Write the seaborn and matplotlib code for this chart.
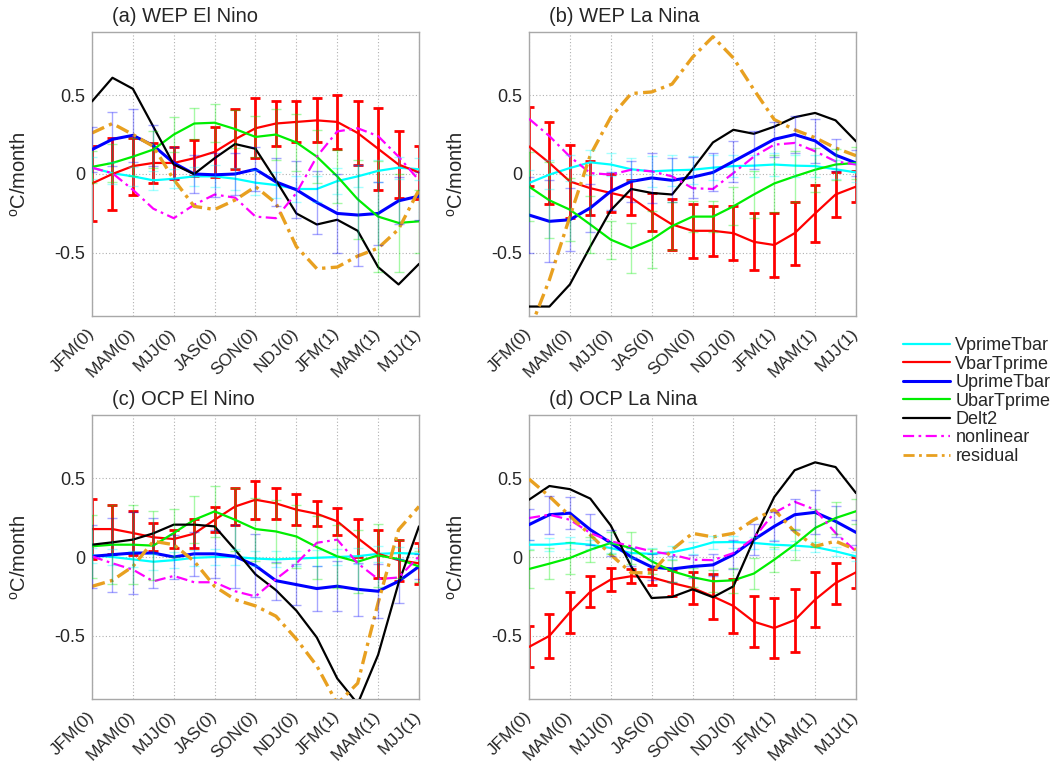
import numpy as np
import pandas as pd
import matplotlib
matplotlib.use("Agg")
import matplotlib.pyplot as plt
from matplotlib.lines import Line2D
import seaborn as sns

# ---------------------------------------------------------------- data
months = list(range(17))
tick_pos = [0, 2, 4, 6, 8, 10, 12, 14, 16]
tick_labels = ["JFM(0)", "MAM(0)", "MJJ(0)", "JAS(0)", "SON(0)",
               "NDJ(0)", "JFM(1)", "MAM(1)", "MJJ(1)"]
terms = ["VprimeTbar", "VbarTprime", "UprimeTbar", "UbarTprime",
         "Delt2", "nonlinear", "residual"]
titles = ["(a) WEP El Nino", "(b) WEP La Nina",
          "(c) OCP El Nino", "(d) OCP La Nina"]

# (a) WEP El Nino
vprimetbar_a = [0.04, 0.005, -0.015, -0.04, -0.03, -0.015, -0.015, -0.03, -0.055,
                -0.07, -0.095, -0.095, -0.045, -0.015, 0.02, 0.04, 0.03]
vbartprime_a = [-0.06, 0.0, 0.05, 0.07, 0.07, 0.10, 0.14, 0.22, 0.29, 0.32, 0.33,
                0.34, 0.33, 0.26, 0.16, 0.06, 0.01]
uprimetbar_a = [0.155, 0.22, 0.245, 0.18, 0.07, 0.0, -0.005, 0.0, 0.03, -0.05, -0.10,
                -0.18, -0.25, -0.26, -0.25, -0.17, -0.14]
ubartprime_a = [0.045, 0.07, 0.11, 0.155, 0.25, 0.32, 0.325, 0.285, 0.235, 0.25, 0.20,
                0.11, -0.015, -0.16, -0.27, -0.31, -0.30]
delt2_a = [0.46, 0.61, 0.54, 0.30, 0.06, 0.0, 0.10, 0.19, 0.16, -0.04, -0.25, -0.32,
           -0.29, -0.36, -0.59, -0.70, -0.57]
nonlinear_a = [0.04, 0.005, -0.10, -0.22, -0.28, -0.195, -0.13, -0.15, -0.27, -0.28,
               -0.12, 0.11, 0.27, 0.29, 0.24, 0.11, -0.04]
residual_a = [0.26, 0.32, 0.25, 0.175, -0.035, -0.205, -0.225, -0.165, -0.08, -0.185,
              -0.46, -0.60, -0.59, -0.52, -0.47, -0.35, -0.10]
vprimetbar_err_a = [0.07, 0.07, 0.06, 0.06, 0.06, 0.06, 0.07, 0.07, 0.08, 0.08, 0.08,
                    0.08, 0.08, 0.07, 0.07, 0.07, 0.07]
vbartprime_err_a = [0.24, 0.23, 0.18, 0.125, 0.10, 0.115, 0.16, 0.19, 0.19, 0.14, 0.13,
                    0.14, 0.17, 0.20, 0.26, 0.21, 0.17]
uprimetbar_err_a = [0.14, 0.17, 0.17, 0.13, 0.10, 0.12, 0.14, 0.13, 0.14, 0.15, 0.18,
                    0.20, 0.25, 0.32, 0.20, 0.15, 0.15]
ubartprime_err_a = [0.10, 0.12, 0.12, 0.12, 0.11, 0.10, 0.12, 0.12, 0.13, 0.16, 0.18,
                    0.17, 0.17, 0.25, 0.35, 0.31, 0.20]

# (b) WEP La Nina
vprimetbar_b = [-0.057, -0.004, 0.038, 0.074, 0.06, 0.03, 0.017, 0.023, 0.027, 0.04,
                0.05, 0.053, 0.06, 0.053, 0.05, 0.03, 0.01]
vbartprime_b = [0.175, 0.07, -0.047, -0.09, -0.12, -0.15, -0.24, -0.32, -0.36, -0.36,
                -0.375, -0.43, -0.45, -0.375, -0.25, -0.13, -0.08]
uprimetbar_b = [-0.26, -0.30, -0.29, -0.215, -0.11, -0.047, -0.025, -0.04, -0.02, 0.01,
                0.08, 0.15, 0.22, 0.25, 0.21, 0.12, 0.07]
ubartprime_b = [-0.08, -0.167, -0.226, -0.32, -0.416, -0.47, -0.416, -0.33, -0.27, -0.27,
                -0.205, -0.13, -0.06, -0.015, 0.027, 0.06, 0.07]
delt2_b = [-0.84, -0.84, -0.70, -0.46, -0.23, -0.095, -0.12, -0.13, 0.03, 0.20, 0.28,
           0.255, 0.30, 0.36, 0.387, 0.34, 0.207]
nonlinear_b = [0.35, 0.24, 0.11, 0.006, -0.004, 0.027, 0.017, -0.015, -0.09, -0.095,
               0.006, 0.11, 0.186, 0.197, 0.144, 0.08, 0.06]
residual_b = [-1.0, -0.67, -0.27, 0.12, 0.36, 0.51, 0.52, 0.57, 0.74, 0.87, 0.735,
              0.535, 0.345, 0.28, 0.23, 0.165, 0.116]
vprimetbar_err_b = [0.08, 0.09, 0.08, 0.08, 0.07, 0.07, 0.10, 0.10, 0.09, 0.08, 0.07,
                    0.07, 0.07, 0.07, 0.07, 0.06, 0.06]
vbartprime_err_b = [0.25, 0.26, 0.23, 0.17, 0.12, 0.11, 0.12, 0.16, 0.17, 0.16, 0.17,
                    0.18, 0.20, 0.20, 0.18, 0.145, 0.10]
uprimetbar_err_b = [0.24, 0.26, 0.20, 0.15, 0.12, 0.13, 0.16, 0.14, 0.13, 0.12, 0.13,
                    0.12, 0.11, 0.12, 0.14, 0.10, 0.08]
ubartprime_err_b = [0.22, 0.24, 0.20, 0.18, 0.12, 0.16, 0.18, 0.15, 0.10, 0.10, 0.12,
                    0.15, 0.18, 0.16, 0.14, 0.10, 0.10]

# (c) OCP El Nino
vprimetbar_c = [0.01, 0.0, -0.015, -0.03, -0.02, -0.005, 0.0, 0.0, -0.01, -0.015,
                -0.01, -0.005, 0.0, 0.005, 0.02, 0.025, 0.02]
vbartprime_c = [0.177, 0.177, 0.152, 0.125, 0.114, 0.148, 0.236, 0.32, 0.363, 0.34,
                0.30, 0.274, 0.226, 0.12, 0.02, -0.02, -0.04]
uprimetbar_c = [0.004, 0.015, 0.025, 0.025, 0.0, 0.02, 0.02, 0.004, -0.055, -0.15,
                -0.175, -0.20, -0.185, -0.205, -0.217, -0.154, -0.06]
ubartprime_c = [0.068, 0.078, 0.078, 0.072, 0.152, 0.236, 0.289, 0.236, 0.177, 0.162,
                0.13, 0.063, 0.004, -0.03, 0.01, -0.013, -0.06]
delt2_c = [0.078, 0.093, 0.11, 0.15, 0.205, 0.205, 0.194, 0.046, -0.11, -0.21, -0.34,
           -0.51, -0.77, -0.93, -0.62, -0.165, 0.194]
nonlinear_c = [0.004, -0.04, -0.08, -0.154, -0.12, -0.16, -0.16, -0.217, -0.25, -0.14,
               -0.04, 0.09, 0.11, -0.04, -0.14, -0.13, 0.004]
residual_c = [-0.186, -0.148, -0.06, 0.10, 0.078, -0.027, -0.186, -0.27, -0.31, -0.375,
              -0.52, -0.69, -0.93, -0.80, -0.29, 0.173, 0.32]
vprimetbar_err_c = [0.05, 0.05, 0.05, 0.05, 0.05, 0.05, 0.05, 0.05, 0.05, 0.05, 0.05,
                    0.05, 0.05, 0.05, 0.05, 0.04, 0.04]
vbartprime_err_c = [0.19, 0.155, 0.14, 0.09, 0.055, 0.09, 0.08, 0.12, 0.12, 0.10, 0.10,
                    0.08, 0.085, 0.12, 0.15, 0.13, 0.13]
uprimetbar_err_c = [0.20, 0.235, 0.26, 0.22, 0.14, 0.14, 0.15, 0.20, 0.20, 0.12, 0.13,
                    0.14, 0.16, 0.17, 0.17, 0.14, 0.08]
ubartprime_err_c = [0.20, 0.25, 0.25, 0.22, 0.15, 0.15, 0.16, 0.20, 0.20, 0.20, 0.20,
                    0.20, 0.20, 0.20, 0.20, 0.12, 0.10]

# (d) OCP La Nina
vprimetbar_d = [0.078, 0.078, 0.089, 0.078, 0.057, 0.025, 0.02, 0.03, 0.057, 0.093,
                0.095, 0.089, 0.078, 0.072, 0.063, 0.036, 0.004]
vbartprime_d = [-0.57, -0.50, -0.35, -0.22, -0.143, -0.122, -0.129, -0.165, -0.196,
                -0.25, -0.31, -0.41, -0.45, -0.40, -0.27, -0.165, -0.097]
uprimetbar_d = [0.205, 0.268, 0.278, 0.173, 0.089, 0.0, -0.063, -0.076, -0.06, -0.05,
                0.015, 0.11, 0.194, 0.268, 0.283, 0.226, 0.156]
ubartprime_d = [-0.076, -0.042, -0.006, 0.046, 0.089, 0.057, -0.027, -0.09, -0.128,
                -0.154, -0.148, -0.105, -0.017, 0.078, 0.184, 0.247, 0.29]
delt2_d = [0.363, 0.45, 0.43, 0.37, 0.20, -0.06, -0.26, -0.253, -0.205, -0.255, -0.186,
           0.11, 0.38, 0.55, 0.60, 0.57, 0.405]
nonlinear_d = [0.247, 0.268, 0.236, 0.152, 0.10, 0.068, 0.036, 0.015, -0.017, -0.02,
               0.025, 0.12, 0.28, 0.35, 0.30, 0.152, 0.036]
residual_d = [0.494, 0.384, 0.26, 0.14, 0.015, -0.10, -0.10, 0.046, 0.15, 0.127, 0.15,
              0.236, 0.30, 0.16, 0.068, 0.10, 0.046]
vprimetbar_err_d = [0.03, 0.04, 0.04, 0.03, 0.03, 0.03, 0.04, 0.04, 0.04, 0.04, 0.04,
                    0.04, 0.03, 0.03, 0.03, 0.03, 0.03]
vbartprime_err_d = [0.13, 0.14, 0.13, 0.10, 0.075, 0.045, 0.05, 0.08, 0.10, 0.14, 0.17,
                    0.16, 0.19, 0.20, 0.175, 0.13, 0.10]
uprimetbar_err_d = [0.10, 0.12, 0.10, 0.10, 0.08, 0.06, 0.08, 0.08, 0.07, 0.07, 0.09,
                    0.10, 0.09, 0.10, 0.14, 0.10, 0.08]
ubartprime_err_d = [0.12, 0.10, 0.10, 0.08, 0.07, 0.10, 0.08, 0.07, 0.06, 0.07, 0.08,
                    0.10, 0.08, 0.10, 0.12, 0.10, 0.08]

panels = [
    ([vprimetbar_a, vbartprime_a, uprimetbar_a, ubartprime_a, delt2_a, nonlinear_a, residual_a],
     [vprimetbar_err_a, vbartprime_err_a, uprimetbar_err_a, ubartprime_err_a]),
    ([vprimetbar_b, vbartprime_b, uprimetbar_b, ubartprime_b, delt2_b, nonlinear_b, residual_b],
     [vprimetbar_err_b, vbartprime_err_b, uprimetbar_err_b, ubartprime_err_b]),
    ([vprimetbar_c, vbartprime_c, uprimetbar_c, ubartprime_c, delt2_c, nonlinear_c, residual_c],
     [vprimetbar_err_c, vbartprime_err_c, uprimetbar_err_c, ubartprime_err_c]),
    ([vprimetbar_d, vbartprime_d, uprimetbar_d, ubartprime_d, delt2_d, nonlinear_d, residual_d],
     [vprimetbar_err_d, vbartprime_err_d, uprimetbar_err_d, ubartprime_err_d]),
]

# ---------------------------------------------------------------- style
colors = {"VprimeTbar": "#00FFFF", "VbarTprime": "#FF0000", "UprimeTbar": "#0000FF",
          "UbarTprime": "#00EE00", "Delt2": "#000000", "nonlinear": "#FF00FF",
          "residual": "#E8A020"}
widths = {"VprimeTbar": 1.6, "VbarTprime": 1.6, "UprimeTbar": 2.2, "UbarTprime": 1.6,
          "Delt2": 1.6, "nonlinear": 1.6, "residual": 2.4}
styles = {"VprimeTbar": "-", "VbarTprime": "-", "UprimeTbar": "-", "UbarTprime": "-",
          "Delt2": "-", "nonlinear": (0, (5, 2, 1.2, 2)), "residual": (0, (4, 1.6, 1, 1.6))}

sns.set_theme(style="white")
plt.rcParams["font.family"] = ["Liberation Sans", "DejaVu Sans"]
plt.rcParams["mathtext.fontset"] = "custom"
plt.rcParams["mathtext.rm"] = "Liberation Sans"

W, H = 1056, 770
fig = plt.figure(figsize=(W / 100, H / 100), dpi=100)
fig.patch.set_facecolor("white")

boxes = [(92, 32), (529, 32), (92, 415), (529, 415)]
aw, ah = 327, 284

for k, ((series, errs), (px, py)) in enumerate(zip(panels, boxes)):
    ax = fig.add_axes([px / W, 1 - (py + ah) / H, aw / W, ah / H])

    # VbarTprime spread: bold opaque bars under the curves
    ax.errorbar(months, series[1], yerr=errs[1], fmt="none", ecolor="#FF0000",
                elinewidth=2.0, capsize=3.4, capthick=2.0, zorder=2)

    for name, vals in zip(terms, series):
        sns.lineplot(x=months, y=vals, ax=ax, color=colors[name], lw=widths[name],
                     linestyle=styles[name], zorder=3, legend=False)

    # light translucent spreads for the other transport terms
    for idx in (0, 2, 3):
        ax.errorbar(months, series[idx], yerr=errs[idx], fmt="none",
                    ecolor=colors[terms[idx]], elinewidth=1.0, capsize=3.4,
                    capthick=1.0, alpha=0.35, zorder=4)

    ax.set_xlim(0, 16)
    ax.set_ylim(-0.9, 0.9)
    ax.set_xticks(tick_pos)
    ax.set_xticklabels(tick_labels, rotation=45, ha="right", va="center",
                       rotation_mode="anchor", fontsize=12.5)
    ax.set_yticks([-0.5, 0, 0.5])
    ax.set_yticklabels(["-0.5", "0", "0.5"], fontsize=13)
    ax.tick_params(axis="x", length=0, pad=11)
    ax.tick_params(axis="y", length=0, pad=5)
    ax.grid(True, linestyle=(0, (1, 2)), color="#b0b0b0", lw=0.8)
    ax.set_axisbelow(True)
    for sp in ax.spines.values():
        sp.set_color("#a8a8a8")
        sp.set_linewidth(1.0)
    ax.set_xlabel("")
    ax.set_ylabel("$^{\\mathrm{o}}$C/month", fontsize=14.5)
    ax.yaxis.set_label_coords(-0.19, 0.5)
    ax.text(20 / aw, 1 + 6 / ah, titles[k], transform=ax.transAxes,
            ha="left", va="bottom", fontsize=14.5)

handles = [Line2D([0], [0], color=colors[n], lw=widths[n] if n != "residual" else 2.0,
                  linestyle=styles[n]) for n in terms]
fig.legend(handles, terms, loc="center left", bbox_to_anchor=(903 / W, 1 - 401 / H),
           frameon=False, fontsize=13, handlelength=2.6, handletextpad=0.3,
           labelspacing=0.08, borderpad=0, borderaxespad=0)

fig.savefig("out.png", dpi=100, facecolor="white")
